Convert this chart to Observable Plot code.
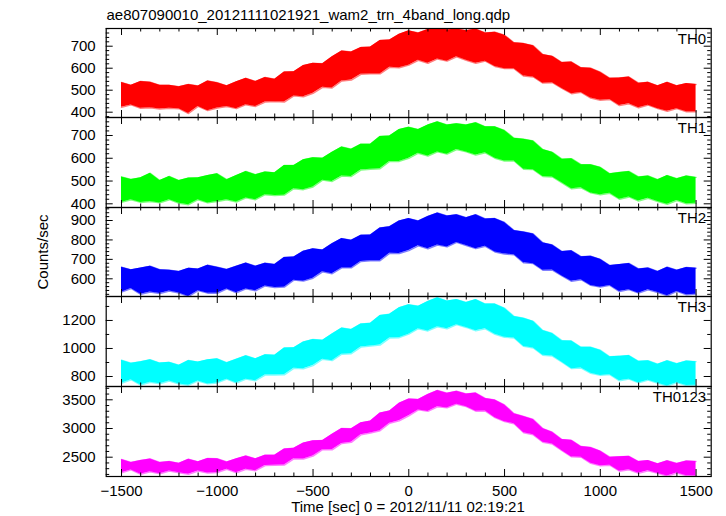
<!DOCTYPE html>
<html><head><meta charset="utf-8">
<script src="https://cdn.jsdelivr.net/npm/d3@7"></script>
<script src="https://cdn.jsdelivr.net/npm/@observablehq/plot@0.6"></script>
<style>
body{margin:0;background:#fff;}
#c{position:relative;width:726px;height:516px;font-family:"Liberation Sans",Arial,sans-serif;color:#000;overflow:hidden;}
.p{position:absolute;left:0;}
.t{position:absolute;font-size:15px;line-height:15px;white-space:nowrap;}
</style></head><body><div id="c"></div><script>
const title = "ae807090010_20121111021921_wam2_trn_4band_long.qdp";
const xLabel = "Time [sec] 0 = 2012/11/11 02:19:21";
const yLabel = "Counts/sec";
const names = ["TH0","TH1","TH2","TH3","TH0123"];
const colors = ["#ff0000","#00ff00","#0000ff","#00ffff","#ff00ff"];

const times = [-1500,-1450,-1400,-1350,-1300,-1250,-1200,-1150,-1100,-1050,-1000,-950,-900,-850,-800,-750,-700,-650,-600,-550,-500,-450,-400,-350,-300,-250,-200,-150,-100,-50,0,50,100,150,200,250,300,350,400,450,500,550,600,650,700,750,800,850,900,950,1000,1050,1100,1150,1200,1250,1300,1350,1400,1450,1500];

const th0Hi = [535,522,540,536,522,522,516,526,519,542,534,520,538,554,540,558,550,583,584,612,622,620,652,678,674,694,696,726,728,754,770,760,776,792,774,778,770,778,760,764,750,716,712,702,662,654,626,628,602,600,582,554,556,560,532,536,520,536,520,530,526];
const th0Lo = [422,433,418,420,414,418,416,394,426,407,419,426,416,434,426,446,448,446,474,470,486,513,510,542,546,572,574,574,604,602,614,636,622,642,632,652,636,622,632,608,598,598,564,560,532,534,508,484,490,464,454,458,430,438,420,432,416,404,416,402,402];

const th1Hi = [518,507,514,534,502,520,502,513,514,524,532,506,524,542,528,540,536,568,568,594,602,600,626,650,640,662,662,696,698,726,736,726,746,760,746,752,746,756,738,738,722,688,684,676,638,626,596,598,572,572,560,532,538,542,518,522,506,524,510,522,516];
const th1Lo = [406,418,406,410,404,418,402,396,418,404,410,418,408,426,418,440,436,438,466,462,474,504,498,522,520,548,552,554,586,586,600,622,610,628,618,638,628,614,624,600,588,588,552,550,520,518,492,466,470,448,440,446,420,430,412,424,410,398,414,400,402];

const th2Hi = [660,646,655,665,647,644,638,654,650,670,660,648,665,681,665,680,674,710,712,742,754,748,781,807,799,824,826,862,868,898,910,898,921,939,923,930,914,930,908,910,890,848,841,831,785,774,740,744,714,716,700,668,673,679,651,656,638,660,644,658,654];
const th2Lo = [531,550,520,532,524,537,527,509,539,526,525,548,528,548,538,563,555,557,593,588,603,636,626,656,656,689,693,693,731,730,745,770,754,774,764,787,771,755,767,738,727,724,682,678,644,645,615,587,595,566,557,566,534,544,526,543,529,513,535,518,521];

const th3Hi = [916,895,906,920,896,901,880,915,903,919,926,899,924,948,926,955,952,1003,1005,1047,1064,1059,1104,1146,1136,1175,1180,1235,1245,1291,1312,1301,1336,1362,1338,1349,1328,1349,1317,1317,1288,1229,1216,1194,1128,1107,1056,1053,1009,1009,988,941,944,950,908,913,888,913,891,911,906];
const th3Lo = [752,777,739,759,748,768,746,738,768,747,754,781,753,781,770,810,810,812,858,855,878,923,913,959,962,1010,1018,1024,1074,1077,1102,1141,1125,1155,1140,1170,1150,1126,1140,1101,1080,1075,1015,1003,952,946,902,856,860,823,808,813,769,781,754,774,752,732,756,735,738];

const th0123Hi = [2460,2408,2442,2469,2409,2425,2393,2464,2419,2478,2475,2418,2472,2521,2471,2535,2535,2642,2657,2746,2785,2790,2900,3001,2995,3099,3129,3268,3305,3440,3513,3507,3594,3663,3615,3649,3601,3618,3523,3496,3411,3258,3210,3157,2999,2935,2809,2794,2687,2670,2607,2500,2508,2515,2425,2441,2385,2438,2391,2436,2425];
const th0123Lo = [2227,2278,2202,2247,2211,2259,2228,2201,2258,2224,2233,2288,2228,2289,2265,2355,2358,2363,2472,2468,2519,2632,2628,2739,2759,2889,2922,2961,3092,3134,3221,3324,3298,3377,3359,3423,3380,3301,3304,3188,3119,3082,2926,2889,2761,2729,2612,2505,2500,2394,2351,2360,2256,2281,2219,2263,2218,2171,2224,2178,2174];

const xMajor = [-1500,-1000,-500,0,500,1000,1500];
const xMinor = [-1400,-1300,-1200,-1100,-900,-800,-700,-600,-400,-300,-200,-100,100,200,300,400,600,700,800,900,1100,1200,1300,1400];

const yMajorTicks = [
  [400,500,600,700],
  [400,500,600,700],
  [600,700,800,900],
  [800,1000,1200],
  [2500,3000,3500]
];
const yMinorTicks = [
  [380,420,440,460,480,520,540,560,580,620,640,660,680,720,740,760,780],
  [420,440,460,480,520,540,560,580,620,640,660,680,720,740,760],
  [520,540,560,580,620,640,660,680,720,740,760,780,820,840,860,880,920,940,960],
  [900,1100,1300],
  [2200,2300,2400,2600,2700,2800,2900,3100,3200,3300,3400,3600,3700]
];
const yDomains = [[375.9,780.5],[383.8,779],[508.9,966.9],[728.6,1371],[2163.8,3731.7]];
const his = [th0Hi,th1Hi,th2Hi,th3Hi,th0123Hi];
const los = [th0Lo,th1Lo,th2Lo,th3Lo,th0123Lo];

const panelTops = [28,117,207,296,386];
const panelBottom = 476;
const xDomain = [-1580,1579];
const mL = 105.7, mR = 15.3, W = 726;
const FW = W - mL - mR;
const majorLen = 7, minorLen = 3.5;
const fmtX = d => d < 0 ? "\u2212" + (-d) : String(d);

const root = document.getElementById("c");

for (let i = 0; i < 5; i++) {
  const top = panelTops[i];
  const bottom = i < 4 ? panelTops[i+1] : panelBottom;
  const H = bottom - top;
  const data = times.map((t, j) => ({t, lo: los[i][j], hi: his[i][j]}));
  const tk = {stroke: "#000", strokeWidth: 1};
  const marks = [
    Plot.areaY(data, {x: "t", y1: "lo", y2: "hi", fill: colors[i], clip: true}),
    Plot.line(data, {x: "t", y: "hi", stroke: colors[i], strokeWidth: 1.4, strokeOpacity: 0.5, clip: true}),
    Plot.line(data, {x: "t", y: "lo", stroke: colors[i], strokeWidth: 1.4, strokeOpacity: 0.5, clip: true}),
    Plot.tickX(xMajor, {x: d => d, insetTop: H - majorLen, ...tk}),
    Plot.tickX(xMinor, {x: d => d, insetTop: H - minorLen, ...tk}),
    Plot.tickX(xMajor, {x: d => d, insetBottom: H - majorLen, ...tk}),
    Plot.tickX(xMinor, {x: d => d, insetBottom: H - minorLen, ...tk}),
    Plot.tickY(yMajorTicks[i], {y: d => d, insetRight: FW - majorLen, ...tk}),
    Plot.tickY(yMinorTicks[i], {y: d => d, insetRight: FW - minorLen, ...tk}),
    Plot.tickY(yMajorTicks[i], {y: d => d, insetLeft: FW - majorLen, ...tk}),
    Plot.tickY(yMinorTicks[i], {y: d => d, insetLeft: FW - minorLen, ...tk}),
    Plot.frame({stroke: "#000", strokeWidth: 1.2}),
    Plot.axisY(yMajorTicks[i], {anchor: "left", tickSize: 0, tickPadding: 10.5, label: null, tickFormat: d => String(d), fontSize: 15}),
    Plot.text([names[i]], {frameAnchor: "top-right", dx: -5, dy: 4.8, lineAnchor: "top", text: d => d, fontSize: 15, fill: "#000"})
  ];
  if (i === 4) {
    marks.push(Plot.axisX(xMajor, {anchor: "bottom", tickSize: 0, tickPadding: 9, label: null, tickFormat: fmtX, fontSize: 15}));
  }
  const svg = Plot.plot({
    width: W, height: H,
    marginLeft: mL, marginRight: mR, marginTop: 0, marginBottom: 0,
    x: {domain: xDomain, axis: null},
    y: {domain: yDomains[i], axis: null},
    style: {overflow: "visible", fontFamily: "'Liberation Sans', Arial, sans-serif", fontSize: "15px", color: "#000", background: "transparent"},
    marks
  });
  svg.classList.add("p");
  svg.style.top = top + "px";
  svg.style.position = "absolute";
  root.appendChild(svg);
}

function addText(txt, css) {
  const d = document.createElement("div");
  d.className = "t";
  d.textContent = txt;
  Object.assign(d.style, css);
  root.appendChild(d);
}
addText(title, {left: "106.5px", top: "6.8px"});
addText(xLabel, {left: "408px", top: "499.3px", transform: "translateX(-50%)"});
addText(yLabel, {left: "42px", top: "252px", transform: "translate(-50%,-50%) rotate(-90deg)"});
</script></body></html>
